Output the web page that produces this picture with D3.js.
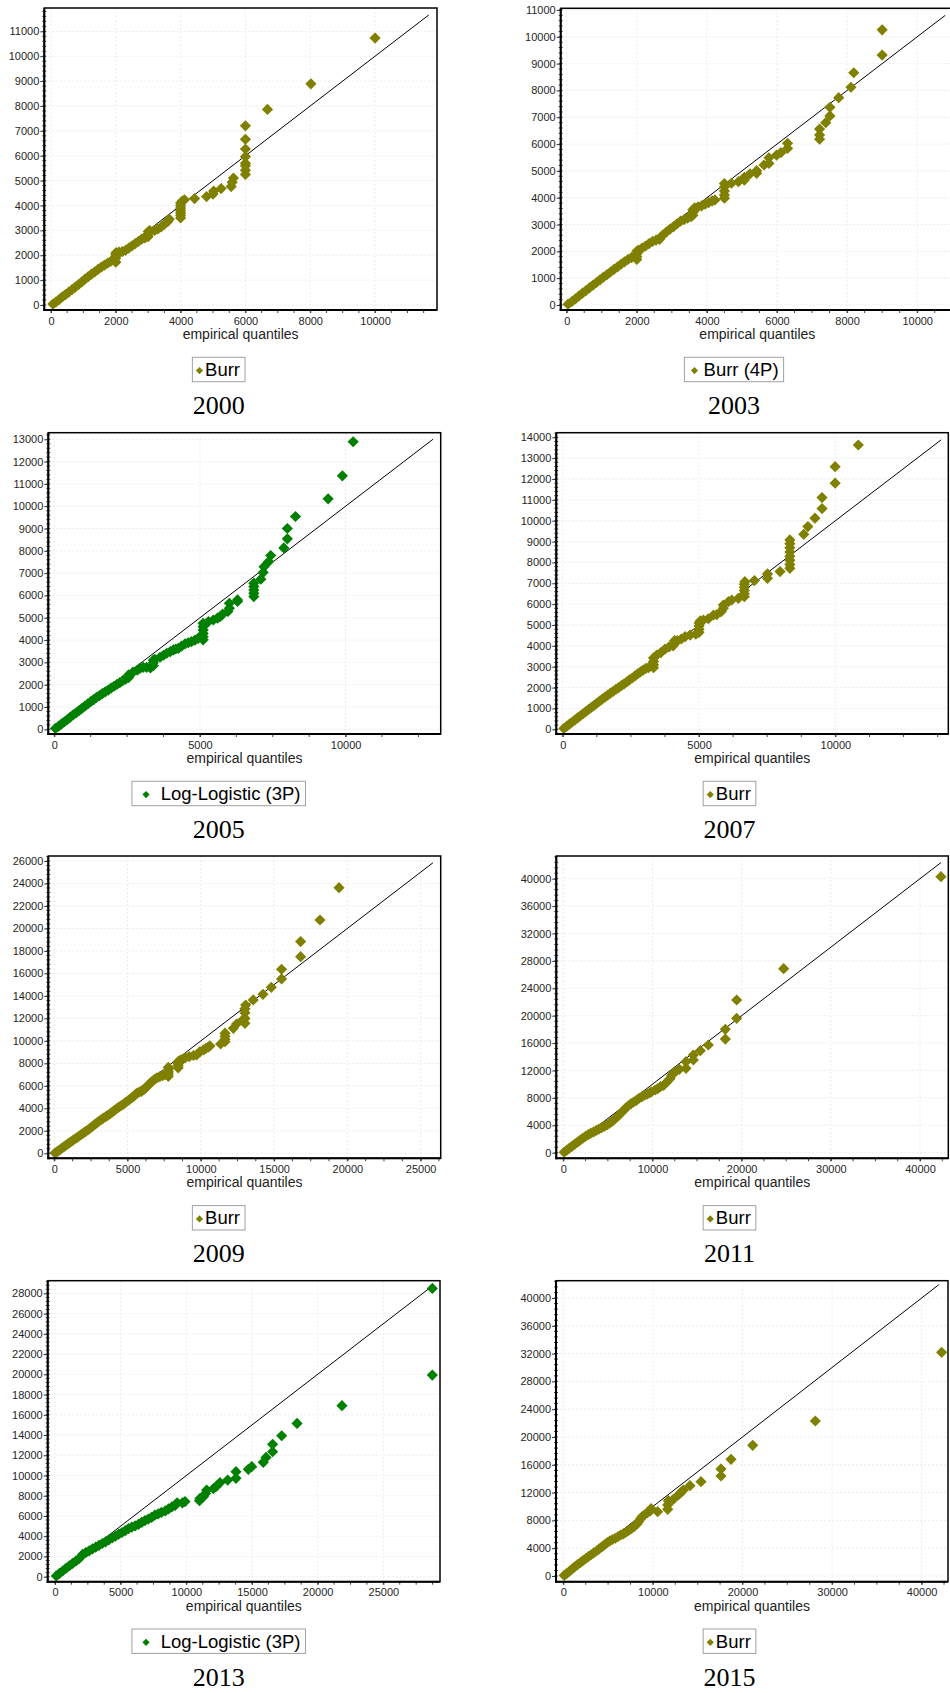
<!DOCTYPE html>
<html>
<head>
<meta charset="utf-8">
<script src="https://cdn.jsdelivr.net/npm/d3@7"></script>
<style>
body { margin: 0; background: #fff; }
svg { display: block; }
.axis text { font-family: "Liberation Sans", Arial, sans-serif; font-size: 11px; fill: #262626; }
.axis line { stroke: #333; }
.axisTitle { font-family: "Liberation Sans", Arial, sans-serif; font-size: 14px; fill: #222; }
.legendText { font-family: "Liberation Sans", Arial, sans-serif; font-size: 18.5px; fill: #000; }
.year { font-family: "Liberation Serif", "Times New Roman", serif; font-size: 26px; fill: #000; }
.grid { stroke: #ececec; stroke-width: 1; stroke-dasharray: 2,2; }
</style>
</head>
<body>
<div id="chart"></div>
<script>
(function(){

//begin script when window loads
window.onload = setCharts;

//---- chart values ----
var years = ["2000", "2003", "2005", "2007", "2009", "2011", "2013", "2015"];
var fitNames = ["Burr", "Burr (4P)", "Log-Logistic (3P)", "Burr", "Burr", "Burr", "Log-Logistic (3P)", "Burr"];

var xDomains = [[-206, 11911], [-171, 11050], [-206, 13265], [-235, 14140],
                [-410, 26370], [-785, 43174], [-556, 29315], [-815, 42940]];
var yDomains = [[-200, 11937], [-186, 11063], [-210, 13295], [-225, 14220],
                [-445, 26443], [-818, 43314], [-494, 29253], [-820, 42490]];
var refLineMax = [11660, 10800, 13000, 13880, 25840, 42350, 28730, 41900];
var xTickSteps = [2000, 2000, 5000, 5000, 5000, 10000, 5000, 10000];
var yTickSteps = [1000, 1000, 1000, 1000, 2000, 4000, 2000, 4000];

//[empirical, theoretical] quantile pairs
var pts2000 = [[60,40],[150,120],[250,220],[350,330],[450,420],[550,520],[650,620],[750,720],[850,820],[950,930],
  [1050,1040],[1150,1140],[1250,1240],[1350,1330],[1450,1430],[1550,1520],[1650,1600],[1750,1680],[1850,1760],[1950,1820],
  [2000,1720],[2000,1880],[2000,1960],[2000,2040],[2010,2110],[2100,2130],[2200,2150],[2300,2200],[2400,2290],[2500,2380],
  [2600,2470],[2700,2560],[2800,2650],[2900,2700],[3000,2750],[3000,2850],[3000,2950],[3050,2990],[3200,3000],[3300,3060],
  [3400,3140],[3500,3250],[3600,3350],[3650,3450],[4000,3500],[4000,3600],[4000,3700],[4000,3800],[4000,3900],[4000,4000],
  [4000,4100],[4050,4180],[4120,4230],[4430,4280],[4800,4360],[5000,4460],[5020,4580],[5250,4680],[5560,4760],[5590,4930],
  [5630,5100],[6000,5250],[6000,5420],[6000,5600],[6000,5700],[6000,5960],[6000,6270],[6000,6660],[6000,7200],[6680,7860],
  [8020,8890],[10000,10730]];

var pts2003 = [[40,30],[150,130],[250,230],[350,340],[450,440],[550,540],[650,640],[750,740],[850,840],[950,940],
  [1050,1040],[1150,1130],[1250,1230],[1350,1330],[1450,1420],[1550,1520],[1650,1610],[1750,1700],[1850,1770],[2000,1700],
  [2000,1800],[2000,1900],[2000,2000],[2050,2050],[2150,2120],[2250,2200],[2350,2290],[2450,2370],[2550,2420],[2650,2450],
  [2700,2550],[2750,2620],[2850,2730],[2950,2830],[3050,2920],[3150,3030],[3250,3130],[3350,3180],[3450,3240],[3550,3290],
  [3600,3350],[3600,3450],[3600,3550],[3650,3620],[3750,3660],[3850,3700],[3950,3760],[4050,3820],[4150,3880],[4230,3920],
  [4500,3980],[4500,4100],[4500,4250],[4500,4400],[4500,4530],[4700,4540],[4900,4600],[5070,4660],[5070,4760],[5230,4890],
  [5420,4910],[5420,5010],[5630,5220],[5770,5280],[5770,5490],[5990,5590],[6110,5680],[6300,5840],[6300,6030],[7215,6180],
  [7215,6340],[7215,6560],[7390,6800],[7510,7050],[7510,7370],[7760,7730],[8110,8120],[8190,8660],[9000,9320],[9000,10260]];

var pts2005 = [[40,40],[150,140],[250,240],[350,340],[450,440],[550,550],[650,650],[750,740],[850,840],[950,940],
  [1050,1040],[1150,1140],[1250,1240],[1350,1330],[1450,1430],[1550,1510],[1650,1600],[1750,1680],[1850,1760],[1950,1850],
  [2050,1930],[2150,2010],[2250,2090],[2350,2180],[2450,2250],[2550,2320],[2550,2440],[2700,2560],[2850,2650],[2950,2740],
  [3050,2780],[3170,2780],[3300,2750],[3400,2850],[3400,2980],[3400,3100],[3450,3140],[3630,3230],[3750,3320],[3860,3410],
  [3980,3480],[4090,3560],[4170,3600],[4260,3630],[4370,3730],[4490,3830],[4600,3880],[4710,3930],[4830,4000],[4940,4080],
  [5110,4010],[5110,4150],[5110,4300],[5110,4450],[5110,4600],[5110,4750],[5290,4830],[5460,4900],[5600,4980],[5690,5050],
  [5780,5160],[5960,5280],[6010,5430],[6010,5650],[6290,5730],[6290,5800],[6850,5950],[6850,6100],[6850,6250],[6850,6400],
  [6850,6550],[7090,6730],[7170,7030],[7200,7290],[7360,7520],[7430,7790],[7880,8130],[8000,8540],[8000,9000],[8280,9540],
  [9400,10330],[9890,11360],[10260,12890]];

var pts2007 = [[40,40],[150,150],[250,250],[350,350],[450,450],[550,550],[650,650],[750,750],[850,850],[950,950],
  [1050,1050],[1150,1150],[1250,1250],[1350,1350],[1450,1450],[1550,1540],[1650,1640],[1750,1730],[1850,1820],[1950,1910],
  [2050,2000],[2150,2090],[2250,2180],[2350,2270],[2450,2370],[2550,2460],[2650,2560],[2750,2660],[2850,2750],[2950,2840],
  [3050,2920],[3150,2960],[3330,2950],[3330,3100],[3330,3250],[3330,3420],[3450,3560],[3600,3680],[3750,3840],[3900,3950],
  [4050,4000],[4100,4100],[4100,4250],[4200,4250],[4350,4330],[4490,4440],[4670,4520],[4880,4560],[5000,4650],[5000,4800],
  [5000,4950],[5000,5100],[5050,5200],[5160,5240],[5340,5300],[5530,5480],[5650,5500],[5810,5640],[5890,5800],[5890,5960],
  [6080,6120],[6200,6200],[6440,6280],[6660,6360],[6660,6500],[6660,6650],[6660,6800],[6660,6950],[6680,7080],[7030,7130],
  [7510,7240],[7510,7450],[7970,7560],[8330,7720],[8330,7900],[8330,8100],[8330,8300],[8330,8500],[8330,8700],[8330,8900],
  [8330,9080],[8840,9350],[8990,9720],[9250,10120],[9510,10580],[9510,11110],[9990,11800],[9990,12590],[10840,13630]];

var pts2009 = [[50,30],[200,150],[350,290],[500,430],[650,580],[800,720],[950,860],[1100,1000],[1250,1130],[1400,1270],
  [1550,1400],[1700,1540],[1850,1680],[2000,1810],[2150,1950],[2300,2090],[2450,2240],[2600,2390],[2750,2550],[2900,2700],
  [3050,2850],[3200,2990],[3350,3120],[3500,3250],[3650,3380],[3800,3510],[3950,3660],[4100,3810],[4250,3960],[4400,4100],
  [4550,4230],[4700,4360],[4850,4500],[5000,4650],[5150,4800],[5300,4950],[5450,5100],[5550,5250],[5650,5350],[5800,5450],
  [5950,5500],[6100,5650],[6250,5850],[6400,6050],[6550,6250],[6700,6420],[6850,6580],[7000,6700],[7200,6820],[7400,6900],
  [7600,7000],[7780,6850],[7780,7050],[7780,7250],[7780,7450],[7780,7650],[8450,7600],[8450,7800],[8450,8000],[8450,8150],
  [8600,8300],[8760,8360],[8950,8500],[9210,8600],[9500,8700],[9710,8750],[9940,9040],[10200,9200],[10350,9340],[10500,9450],
  [10620,9550],[11350,9720],[11650,9930],[11650,10150],[11650,10400],[11650,10680],[12220,11120],[12440,11500],[12850,11860],[13010,11560],
  [13010,12000],[13010,12500],[13010,12850],[13060,13190],[13580,13640],[14240,14140],[14810,14760],[15510,15510],[15510,16370],[16810,17490],
  [16810,18830],[18130,20750],[19430,23630]];

var pts2011 = [[100,80],[400,380],[700,680],[1000,970],[1300,1260],[1600,1550],[1900,1840],[2200,2120],[2500,2400],[2800,2640],
  [3100,2850],[3400,3050],[3700,3250],[4000,3450],[4300,3650],[4600,3850],[4900,4050],[5200,4300],[5500,4600],[5800,4950],
  [6100,5300],[6400,5700],[6700,6100],[7000,6500],[7300,6850],[7600,7150],[7900,7400],[8200,7650],[8500,7950],[8800,8150],
  [9100,8400],[9400,8550],[9700,8750],[9900,8900],[10300,9150],[10600,9350],[10900,9640],[11250,9830],[11630,10320],[11960,10800],
  [12150,11290],[12300,11500],[12520,11830],[13010,12170],[13760,12310],[13760,13290],[14580,13530],[14580,14260],[15360,14890],[16260,15720],
  [18170,16590],[18170,18010],[19440,19610],[19440,22290],[24710,26860],[42350,40290]];

var pts2013 = [[100,80],[350,330],[600,590],[850,840],[1100,1080],[1350,1320],[1600,1560],[1850,1800],[2100,2200],[2350,2380],
  [2600,2560],[2850,2750],[3100,2920],[3350,3100],[3600,3280],[3850,3450],[4100,3640],[4350,3830],[4600,4010],[4850,4200],
  [5100,4370],[5350,4550],[5600,4760],[5850,4900],[6100,5020],[6350,5180],[6600,5370],[6850,5550],[7100,5700],[7350,5860],
  [7600,6080],[7850,6200],[8100,6350],[8400,6500],[8650,6700],[8900,6900],[9150,7050],[9300,7300],[9700,7300],[9900,7420],
  [11000,7510],[11040,7740],[11300,7900],[11470,8230],[11550,8560],[12060,8700],[12310,8960],[12560,9290],[13150,9550],[13780,9720],
  [13780,10380],[14720,10610],[14980,10870],[15860,11300],[16070,11790],[16570,12350],[16570,13080],[17260,13930],[18430,15150],[21850,16900],
  [28730,19930],[28730,28490]];

var pts2015 = [[100,80],[400,380],[700,690],[1000,1020],[1300,1340],[1600,1640],[1900,1920],[2200,2220],[2500,2500],[2800,2780],
  [3100,3060],[3400,3330],[3700,3600],[4000,3900],[4300,4200],[4600,4480],[4900,4800],[5200,5050],[5500,5250],[5800,5430],
  [6100,5650],[6400,5900],[6700,6050],[7000,6300],[7300,6550],[7600,6800],[7900,7100],[8200,7450],[8400,7800],[8600,8200],
  [8800,8550],[9100,8850],[9400,9100],[9700,9350],[9800,9700],[10530,9260],[11650,9590],[11650,10220],[11720,10840],[12280,11030],
  [12840,11660],[13100,11990],[13400,12370],[14140,13000],[15370,13570],[17600,14390],[17600,15400],[18720,16790],[21140,18800],[28130,22300],
  [42230,32180]];

var quantiles = [pts2000, pts2003, pts2005, pts2007, pts2009, pts2011, pts2013, pts2015];

//---- layout and styles ----
var frames = [
    {left: 44.3,  top: 8,      width: 392.7, height: 302,   cx: 218.7},
    {left: 560.7, top: 8.3,    width: 393.3, height: 301.7, cx: 734},
    {left: 48.3,  top: 432.7,  width: 392.4, height: 301.3, cx: 218.7},
    {left: 556.3, top: 432.7,  width: 392,   height: 301.3, cx: 729.5},
    {left: 48.3,  top: 856,    width: 392.4, height: 302.3, cx: 218.7},
    {left: 556.3, top: 856,    width: 392,   height: 302.3, cx: 729.5},
    {left: 47.7,  top: 1280.7, width: 392.3, height: 301,   cx: 218.7},
    {left: 556,   top: 1280.7, width: 392,   height: 301,   cx: 729.5}
];
var fitColors = {"Burr": "#808000", "Burr (4P)": "#808000", "Log-Logistic (3P)": "#008000"};
var legendStyle = {
    "Burr": {padL: 3.5, gap: 2},
    "Burr (4P)": {padL: 6.5, gap: 5.5},
    "Log-Logistic (3P)": {padL: 10.5, gap: 11}
};
var markerR = 5.6;

function diamond(r){
    return "M0," + (-r) + "L" + r + ",0L0," + r + "L" + (-r) + ",0Z";
};

function setCharts(){

    var svg = d3.select("#chart")
        .append("svg")
        .attr("width", 950)
        .attr("height", 1693);

    for (var i = 0; i < years.length; i++){
        drawPanel(svg, i);
    }
};

//one Q-Q panel
function drawPanel(svg, i){

    var f = frames[i];
    var g = svg.append("g").attr("class", "panel");
    var color = fitColors[fitNames[i]];
    var bottom = f.top + f.height;

    var x = d3.scaleLinear()
        .domain(xDomains[i])
        .range([f.left, f.left + f.width]);

    var y = d3.scaleLinear()
        .domain(yDomains[i])
        .range([bottom, f.top]);

    var xTicks = d3.range(0, xDomains[i][1], xTickSteps[i]);
    var yTicks = d3.range(0, yDomains[i][1], yTickSteps[i]);
    var xMinor = d3.range(0, xDomains[i][1], xTickSteps[i] / 4);
    var yMinor = d3.range(0, yDomains[i][1], yTickSteps[i] / 5);

    //plot background
    g.append("rect")
        .attr("x", f.left)
        .attr("y", f.top)
        .attr("width", f.width)
        .attr("height", f.height)
        .attr("fill", "#fff");

    //grid
    g.selectAll(".gridX")
        .data(xTicks)
        .enter()
        .append("line")
        .attr("class", "grid")
        .attr("x1", function(d){ return x(d); })
        .attr("x2", function(d){ return x(d); })
        .attr("y1", f.top)
        .attr("y2", bottom);

    g.selectAll(".gridY")
        .data(yTicks)
        .enter()
        .append("line")
        .attr("class", "grid")
        .attr("x1", f.left)
        .attr("x2", f.left + f.width)
        .attr("y1", function(d){ return y(d); })
        .attr("y2", function(d){ return y(d); });

    //reference line y = x
    g.append("line")
        .attr("x1", x(0))
        .attr("y1", y(0))
        .attr("x2", x(refLineMax[i]))
        .attr("y2", y(refLineMax[i]))
        .attr("stroke", "#000")
        .attr("stroke-width", 1);

    //quantile points
    g.selectAll(".pt")
        .data(quantiles[i])
        .enter()
        .append("path")
        .attr("class", "pt")
        .attr("d", diamond(markerR))
        .attr("transform", function(d){ return "translate(" + x(d[0]) + "," + y(d[1]) + ")"; })
        .attr("fill", color);

    //frame
    g.append("rect")
        .attr("x", f.left)
        .attr("y", f.top)
        .attr("width", f.width)
        .attr("height", f.height)
        .attr("fill", "none")
        .attr("stroke", "#000")
        .attr("stroke-width", 1.5);

    //axes
    var yAxis = g.append("g")
        .attr("class", "axis")
        .attr("transform", "translate(" + f.left + ",0)")
        .call(d3.axisLeft(y).tickValues(yTicks).tickSize(4).tickPadding(1).tickFormat(d3.format("d")));
    yAxis.select(".domain").remove();

    var xAxis = g.append("g")
        .attr("class", "axis")
        .attr("transform", "translate(0," + bottom + ")")
        .call(d3.axisBottom(x).tickValues(xTicks).tickSize(3).tickPadding(3.7).tickFormat(d3.format("d")));
    xAxis.select(".domain").remove();
    g.selectAll(".axis").attr("font-size", null).attr("font-family", null);

    //minor ticks
    g.selectAll(".minorY")
        .data(yMinor)
        .enter()
        .append("line")
        .attr("x1", f.left - 2)
        .attr("x2", f.left + 2)
        .attr("y1", function(d){ return y(d); })
        .attr("y2", function(d){ return y(d); })
        .attr("stroke", "#444");

    g.selectAll(".minorX")
        .data(xMinor)
        .enter()
        .append("line")
        .attr("x1", function(d){ return x(d); })
        .attr("x2", function(d){ return x(d); })
        .attr("y1", bottom)
        .attr("y2", bottom + 3)
        .attr("stroke", "#444");

    //left and bottom axis lines
    g.append("line")
        .attr("x1", f.left).attr("x2", f.left)
        .attr("y1", f.top).attr("y2", bottom + 1)
        .attr("stroke", "#000").attr("stroke-width", 2);
    g.append("line")
        .attr("x1", f.left - 1).attr("x2", f.left + f.width)
        .attr("y1", bottom).attr("y2", bottom)
        .attr("stroke", "#000").attr("stroke-width", 2);

    //axis title
    g.append("text")
        .attr("class", "axisTitle")
        .attr("x", f.left + f.width / 2)
        .attr("y", bottom + 29)
        .attr("text-anchor", "middle")
        .text("empirical quantiles");

    drawLegend(g, f, fitNames[i], color, bottom);

    //year caption
    g.append("text")
        .attr("class", "year")
        .attr("x", f.cx)
        .attr("y", bottom + 104)
        .attr("text-anchor", "middle")
        .text(years[i]);
};

//legend box with one diamond
function drawLegend(g, f, name, color, bottom){

    var ls = legendStyle[name];
    var top = bottom + 47.3;
    var lg = g.append("g");

    var box = lg.append("rect")
        .attr("y", top)
        .attr("height", 24.4)
        .attr("fill", "#fff")
        .attr("stroke", "#a0a0a0")
        .attr("stroke-width", 1);

    var marker = lg.append("path")
        .attr("d", diamond(3.6))
        .attr("fill", color);

    var label = lg.append("text")
        .attr("class", "legendText")
        .attr("y", top + 18.8)
        .text(name);

    var tw = label.node().getComputedTextLength();
    var w = ls.padL + 7.2 + ls.gap + tw + 5;
    var x0 = f.cx - w / 2;

    box.attr("x", x0).attr("width", w);
    marker.attr("transform", "translate(" + (x0 + ls.padL + 3.6) + "," + (top + 13.3) + ")");
    label.attr("x", x0 + ls.padL + 7.2 + ls.gap);
};

})();
</script>
</body>
</html>
